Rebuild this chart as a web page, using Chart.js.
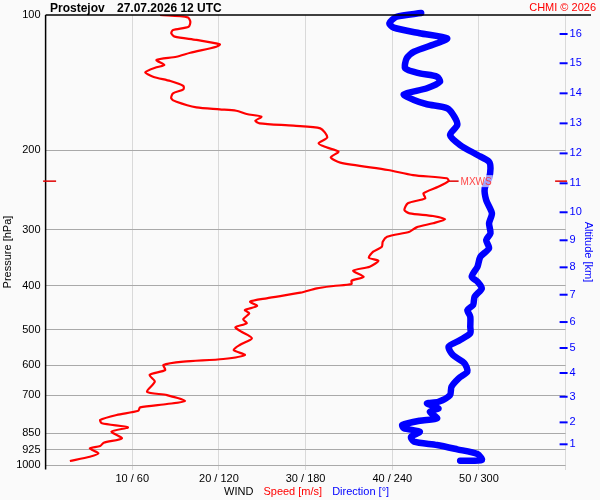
<!DOCTYPE html>
<html><head><meta charset="utf-8">
<script src="https://cdn.jsdelivr.net/npm/chart.js@4/dist/chart.umd.min.js"></script>
<style>html,body{margin:0;padding:0;background:#fafafa}#wrap{width:600px;height:500px;position:relative}</style>
</head><body><div id="wrap"><canvas id="c"></canvas></div>
<script>
// Wind speed profile [m/s] vs pressure [hPa]
const speedPressure = [100,101.2,103.5,106.2,108.0,109.8,111.7,113.6,116.2,117.6,121.3,123.8,125.9,129.2,130.7,134.1,137.1,140.2,143.8,146.3,149.3,153.2,155.9,160.4,162.0,163.2,166.0,168.3,171.8,174.1,176.2,178.6,187.0,192.8,196.8,201.3,207.1,212.9,221.0,226.8,230.6,233.8,240.8,249.0,255.5,262.1,271.3,275.9,279.7,284.5,290.3,296.4,303.1,311.0,319.0,327.3,335.7,346.2,351.6,362.5,370.0,381.6,389.4,396.1,400.2,404.9,414.1,426.2,433.6,443.3,452.5,460.2,474.5,484.3,494.3,505.6,522.9,541.2,555.2,569.7,581.4,589.5,599.5,615.0,631.0,652.9,687.4,699.2,721.0,732.0,744.6,757.6,774.3,794.3,807.8,824.6,843.3,872.3,892.0,907.3,918.1,941.9,958.4,979.7];
const speedValues = [13.2,16.4,16.7,16.5,14.7,14.5,14.9,17.4,20.1,19.7,16.7,15.1,12.8,13.7,12.8,11.5,12.4,14.4,15.9,15.9,14.7,14.5,15.1,17.4,20.1,22.0,23.2,24.9,24.2,24.7,28.6,31.7,32.5,31.5,32.4,33.8,32.9,34.0,39.5,42.4,46.3,46.5,45.3,43.6,43.8,41.8,41.4,42.0,44.7,46.1,44.7,42.8,42.0,39.4,38.9,38.8,37.8,37.3,38.4,37.4,35.5,36.7,35.3,35.3,33.2,31.3,29.4,25.5,23.6,24.4,23.0,23.5,22.8,23.2,21.9,22.6,23.8,22.4,21.7,23.0,20.5,15.9,13.6,13.8,12.0,12.6,11.7,14.0,16.1,14.0,10.9,10.7,8.2,6.3,6.5,9.5,7.6,8.8,6.7,6.3,5.1,6.1,5.1,2.8];
// Wind direction profile [deg] vs pressure [hPa]
const dirPressure = [99,100.9,104.3,106.7,109.8,112.7,115.6,120.7,124.8,131.4,134.8,137.1,140.7,145.5,150.1,154.5,157.9,161.2,168.3,175.6,184.8,194.5,204.7,211.8,219.1,230.6,242.7,257.7,275.9,290.3,305.6,316.2,329.9,344.4,362.5,381.6,391.4,404.9,422.7,441.0,452.5,468.2,492.9,509.7,527.7,545.9,569.7,594.3,620.4,641.6,669.9,699.2,723.5,729.5,748.2,761.3,787.5,797.3,814.9,828.8,843.3,865.8,887.5,902.7,922.9,945.3,974.7,978.1];
const dirValues = [260,243,238,241,259,278,271,255,250,249,259,271,273,264,248,255,264,278,283,285,280,287,299,307,308,307,304,305,309,307,308,305,307,301,299,295,299,302,297,296,292,294,294,294,287,279,282,290,292,286,281,280,272,264,272,266,271,259,247,248,259,253,255,271,285,299,302,287];
// Axis ticks
const pressureTicks = [100,200,300,400,500,600,700,850,925,1000];
const speedTicks = [0,10,20,30,40,50,60];
const altitudeKm = [1,2,3,4,5,6,7,8,9,10,11,12,13,14,15,16];
const altitudePressure = [899.5,804.0,705.2,624.5,549.5,481.2,418.4,363.7,316.7,274.4,236.6,203.0,174.1,149.3,128.0,110.2];
// Max wind level
const mxwsPressure = [234];
const mxwsSpeed = [46.5];

const FONT = "'Liberation Sans', Arial, Helvetica, sans-serif";
Chart.defaults.font.family = FONT;
Chart.defaults.font.size = 11;
Chart.defaults.color = '#000';

const decor = {
  id: 'decor',
  beforeDraw(chart) {
    const c = chart.ctx;
    c.save();
    c.fillStyle = '#fafafa';
    c.fillRect(0, 0, chart.width, chart.height);
    c.restore();
  },
  afterDraw(chart) {
    const c = chart.ctx, a = chart.chartArea;
    const ys = chart.scales.y, y2 = chart.scales.y2, xs = chart.scales.x;
    c.save();
    // top border and left axis
    c.strokeStyle = '#000'; c.lineWidth = 1.5;
    c.beginPath(); c.moveTo(a.left, a.top); c.lineTo(591, a.top); c.stroke();
    c.lineWidth = 1.5;
    c.beginPath(); c.moveTo(a.left, a.top); c.lineTo(a.left, a.bottom + 4.5); c.stroke();
    // altitude tick marks
    c.strokeStyle = '#0000ff'; c.lineWidth = 2;
    y2.ticks.forEach(t => {
      const y = y2.getPixelForValue(t.value);
      c.beginPath(); c.moveTo(a.right - 6, y); c.lineTo(a.right + 2, y); c.stroke();
    });
    // MXWS marks
    const my = ys.getPixelForValue(mxwsPressure[0]);
    const mx = xs.getPixelForValue(mxwsSpeed[0]);
    c.strokeStyle = '#e00000'; c.lineWidth = 1.5;
    c.beginPath(); c.moveTo(a.left - 2.5, my); c.lineTo(a.left + 10.5, my); c.stroke();
    c.beginPath(); c.moveTo(a.right - 10.5, my); c.lineTo(a.right + 1.5, my); c.stroke();
    c.beginPath(); c.moveTo(mx, my); c.lineTo(mx + 10, my); c.stroke();
    c.font = '10px ' + FONT;
    const mw = c.measureText('MXWS').width;
    c.fillStyle = 'rgba(250,250,250,0.65)';
    c.fillRect(mx + 11, my - 6, mw + 2, 12);
    c.fillStyle = 'rgba(255,40,40,0.85)';
    c.textBaseline = 'middle'; c.textAlign = 'left';
    c.fillText('MXWS', mx + 12, my + 1);
    // title
    c.fillStyle = '#000'; c.textBaseline = 'alphabetic';
    c.font = 'bold 12px ' + FONT;
    c.fillText('Prostejov', 50, 12);
    c.fillText('27.07.2026 12 UTC', 117, 12);
    c.font = '11px ' + FONT;
    c.fillStyle = '#ff0000'; c.textAlign = 'right';
    c.fillText('CHMI \u00A9 2026', 596, 11);
    // bottom axis title (multi-coloured)
    const parts = [['WIND', '#000'], ['Speed [m/s]', '#ff0000'], ['Direction [\u00B0]', '#0000ff']];
    const gap = 10;
    const widths = parts.map(p => c.measureText(p[0]).width);
    let total = widths.reduce((s, w) => s + w, 0) + gap * (parts.length - 1);
    let x = (a.left + a.right) / 2 - total / 2 + 1;
    c.textAlign = 'left'; c.textBaseline = 'middle';
    parts.forEach((p, i) => { c.fillStyle = p[1]; c.fillText(p[0], x, 491.5); x += widths[i] + gap; });
    // left axis title
    c.save();
    c.translate(7.5, 252); c.rotate(-Math.PI / 2);
    c.fillStyle = '#000'; c.textAlign = 'center'; c.textBaseline = 'middle';
    c.fillText('Pressure [hPa]', 0, 0);
    c.restore();
    // right axis title
    c.save();
    c.translate(588.5, 252); c.rotate(Math.PI / 2);
    c.fillStyle = '#0000ff'; c.textAlign = 'center'; c.textBaseline = 'middle';
    c.fillText('Altitude [km]', 0, 0);
    c.restore();
    c.restore();
  }
};

new Chart(document.getElementById('c'), {
  type: 'scatter',
  data: {
    datasets: [
      {
        label: 'Speed',
        data: speedValues.map((s, i) => ({ x: s, y: speedPressure[i] })),
        showLine: true, borderColor: '#ff0000', borderWidth: 2.2,
        pointRadius: 0, tension: 0.25, xAxisID: 'x', yAxisID: 'y',
        borderJoinStyle: 'round', order: 2
      },
      {
        label: 'Direction',
        data: dirValues.map((d, i) => ({ x: d, y: dirPressure[i] })),
        showLine: true, borderColor: '#0000ff', borderWidth: 6.5,
        pointRadius: 0, tension: 0.25, xAxisID: 'x2', yAxisID: 'y',
        borderJoinStyle: 'round', borderCapStyle: 'round', clip: false, order: 1
      }
    ]
  },
  options: {
    responsive: true, maintainAspectRatio: false, animation: false, devicePixelRatio: 1,
    layout: { padding: { top: 15, left: 0, right: 0, bottom: 0 } },
    plugins: { legend: { display: false }, tooltip: { enabled: false } },
    events: [],
    scales: {
      x: {
        type: 'linear', position: 'bottom', min: 0, max: 60,
        afterBuildTicks: s => { s.ticks = speedTicks.map(v => ({ value: v })); },
        afterFit: s => { s.height = 35; },
        ticks: {
          autoSkip: false, maxRotation: 0, padding: 2, color: '#000',
          callback: v => (v > 0 && v < 60) ? (v + ' / ' + v * 6) : ''
        },
        grid: {
          color: c => (c.tick && c.tick.value === 0) ? 'rgba(0,0,0,0)' : '#d9d9d9',
          tickLength: 5, drawTicks: true, lineWidth: 1
        },
        border: { display: false }
      },
      x2: { type: 'linear', min: 0, max: 360, display: false },
      y: {
        type: 'logarithmic', position: 'left', min: 100, max: 1000, reverse: true,
        afterBuildTicks: s => { s.ticks = pressureTicks.map(v => ({ value: v })); },
        afterFit: s => { s.width = 45.6; },
        ticks: { autoSkip: false, padding: 5, color: '#000', callback: v => String(v) },
        grid: {
          color: c => (c.tick && c.tick.value === 100) ? 'rgba(0,0,0,0)' : '#a9a9a9',
          drawTicks: false, lineWidth: 1
        },
        border: { display: false }
      },
      y2: {
        type: 'logarithmic', position: 'right', min: 100, max: 1000, reverse: true,
        afterBuildTicks: s => { s.ticks = altitudePressure.map(v => ({ value: v })); },
        afterFit: s => { s.width = 34.4; },
        ticks: { autoSkip: false, padding: 4, color: '#0000ff', callback: (v, i) => String(altitudeKm[i]) },
        grid: { display: false, drawTicks: false },
        border: { display: false }
      }
    }
  },
  plugins: [decor]
});
</script></body></html>
